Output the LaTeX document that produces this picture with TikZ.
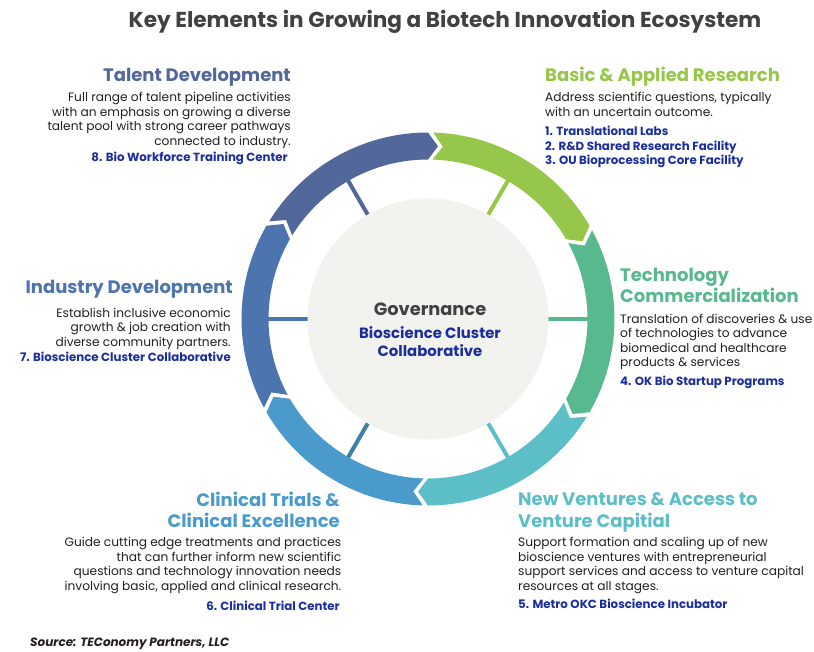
\documentclass[tikz,border=0pt]{standalone}
\usepackage{fontspec}
\setmainfont{Poppins}
\definecolor{cSlate}{HTML}{52679A}
\definecolor{cGreen}{HTML}{96C74A}
\definecolor{cTeal}{HTML}{58B98E}
\definecolor{cCyan}{HTML}{5CBFC7}
\definecolor{cBlue}{HTML}{4A9BCB}
\definecolor{cMid}{HTML}{4C74AE}
\definecolor{cTick}{HTML}{3C7FA8}
\definecolor{cItem}{HTML}{1B2E9C}
\definecolor{cBody}{HTML}{231F20}
\definecolor{cTitle}{HTML}{414141}
\definecolor{cCore}{HTML}{F2F2EF}
\newcommand\Ro{186.5pt}
\newcommand\Ri{159.5pt}
\newcommand\Rm{173pt}
\newcommand\gapang{1.6}
\newcommand\tipang{3.3}
\newcommand\ringseg[3]{%
  \fill[#3] (#1-\gapang:\Ro) arc[start angle=#1-\gapang, end angle=#2, radius=\Ro]
    -- (#2-\tipang:\Rm) -- (#2:\Ri)
    arc[start angle=#2, end angle=#1-\gapang, radius=\Ri]
    -- (#1-\gapang-\tipang:\Rm) -- cycle;}
\tikzset{
  ttl/.style={font=\fontsize{18}{21.7}\selectfont\bfseries, inner sep=0pt},
  body/.style={font=\fontsize{12.2}{14.5}\selectfont, text=cBody, inner sep=0pt},
  item/.style={font=\fontsize{11.8}{14.3}\selectfont\bfseries, text=cItem, inner sep=0pt},
  tick/.style={line width=4pt}
}
\begin{document}
\begin{tikzpicture}[x=1pt,y=-1pt]
\useasboundingbox (0,0) rectangle (814,651);
\fill[white] (0,0) rectangle (814,651);

\node[font=\fontsize{21.6}{26}\selectfont\bfseries, text=cTitle, anchor=base, inner sep=0pt] (title) at (445,27) {Key Elements in Growing a Biotech Innovation Ecosystem};

% ring
\begin{scope}[shift={(428,319)}]
  \draw[tick, cSlate] (120:118pt) -- (120:161pt);
  \draw[tick, cGreen] (60:118pt) -- (60:161pt);
  \draw[tick, cTeal] (0:118pt) -- (0:161pt);
  \draw[tick, cCyan] (-60:118pt) -- (-60:161pt);
  \draw[tick, cTick] (-120:118pt) -- (-120:161pt);
  \draw[tick, cMid] (180:118pt) -- (180:161pt);
  \fill[cCore] (0,0) circle[radius=120.5pt];
  \ringseg{150}{90}{cSlate}
  \ringseg{90}{30}{cGreen}
  \ringseg{30}{-30}{cTeal}
  \ringseg{-30}{-90}{cCyan}
  \ringseg{-90}{-150}{cBlue}
  \ringseg{-150}{-210}{cMid}
\end{scope}

% center
\node[font=\fontsize{17.8}{20}\selectfont\bfseries, text=cTitle, anchor=base, inner sep=0pt] (gov) at (430,315) {Governance};
\node[font=\fontsize{14.9}{18}\selectfont\bfseries, text=cItem, anchor=base, inner sep=0pt, align=center] (govitem) at (430,356) {Bioscience Cluster\\Collaborative};

% Talent Development
\node[ttl, text=cSlate, anchor=base east] (t1) at (291,81) {Talent Development};
\node[body, anchor=base east, align=right] (b1) at (291,145) {Full range of talent pipeline activities\\with an emphasis on growing a diverse\\talent pool with strong career pathways\\connected to industry.};
\node[item, anchor=base east] (i1) at (288,161) {8. Bio Workforce Training Center};

% Basic & Applied Research
\node[ttl, text=cGreen, anchor=base west] (t2) at (545,81) {Basic \& Applied Research};
\node[body, anchor=base west, align=left] (b2) at (545,116) {Address scientific questions, typically\\with an uncertain outcome.};
\node[item, anchor=base west, align=left] (i2) at (545,164.3) {1. Translational Labs\\2. R\&D Shared Research Facility\\3. OU Bioprocessing Core Facility};

% Technology Commercialization
\node[ttl, text=cTeal, anchor=base west, align=left] (t3) at (620,302.7) {Technology\\Commercialization};
\node[body, anchor=base west, align=left] (b3) at (620,366.8) {Translation of discoveries \& use\\of technologies to advance\\biomedical and healthcare\\products \& services};
\node[item, anchor=base west] (i3) at (620,385) {4. OK Bio Startup Programs};

% Industry Development
\node[ttl, text=cMid, anchor=base east] (t6) at (233,293) {Industry Development};
\node[body, anchor=base east, align=right] (b6) at (231,346) {Establish inclusive economic\\growth \& job creation with\\diverse community partners.};
\node[item, anchor=base east] (i6) at (231,361.7) {7. Bioscience Cluster Collaborative};

% Clinical Trials
\node[ttl, text=cBlue, anchor=base east, align=right] (t5) at (340,527.7) {Clinical Trials \&\\Clinical Excellence};
\node[body, anchor=base east, align=right] (b5) at (341.5,590.2) {Guide cutting edge treatments and practices\\that can further inform new scientific\\questions and technology innovation needs\\involving basic, applied and clinical research.};
\node[item, anchor=base east] (i5) at (340,610) {6. Clinical Trial Center};

% New Ventures
\node[ttl, text=cCyan, anchor=base west, align=left] (t4) at (518,527) {New Ventures \& Access to\\Venture Capitial};
\node[body, anchor=base west, align=left] (b4) at (518,590.2) {Support formation and scaling up of new\\bioscience ventures with entrepreneurial\\support services and access to venture capital\\resources at all stages.};
\node[item, anchor=base west] (i4) at (518,608.3) {5. Metro OKC Bioscience Incubator};

% source
\node[font=\fontsize{12}{14}\selectfont\bfseries\itshape, text=cBody, anchor=base west, inner sep=0pt] (src) at (30,646.7) {Source: TEConomy Partners, LLC};
\end{tikzpicture}
\end{document}
